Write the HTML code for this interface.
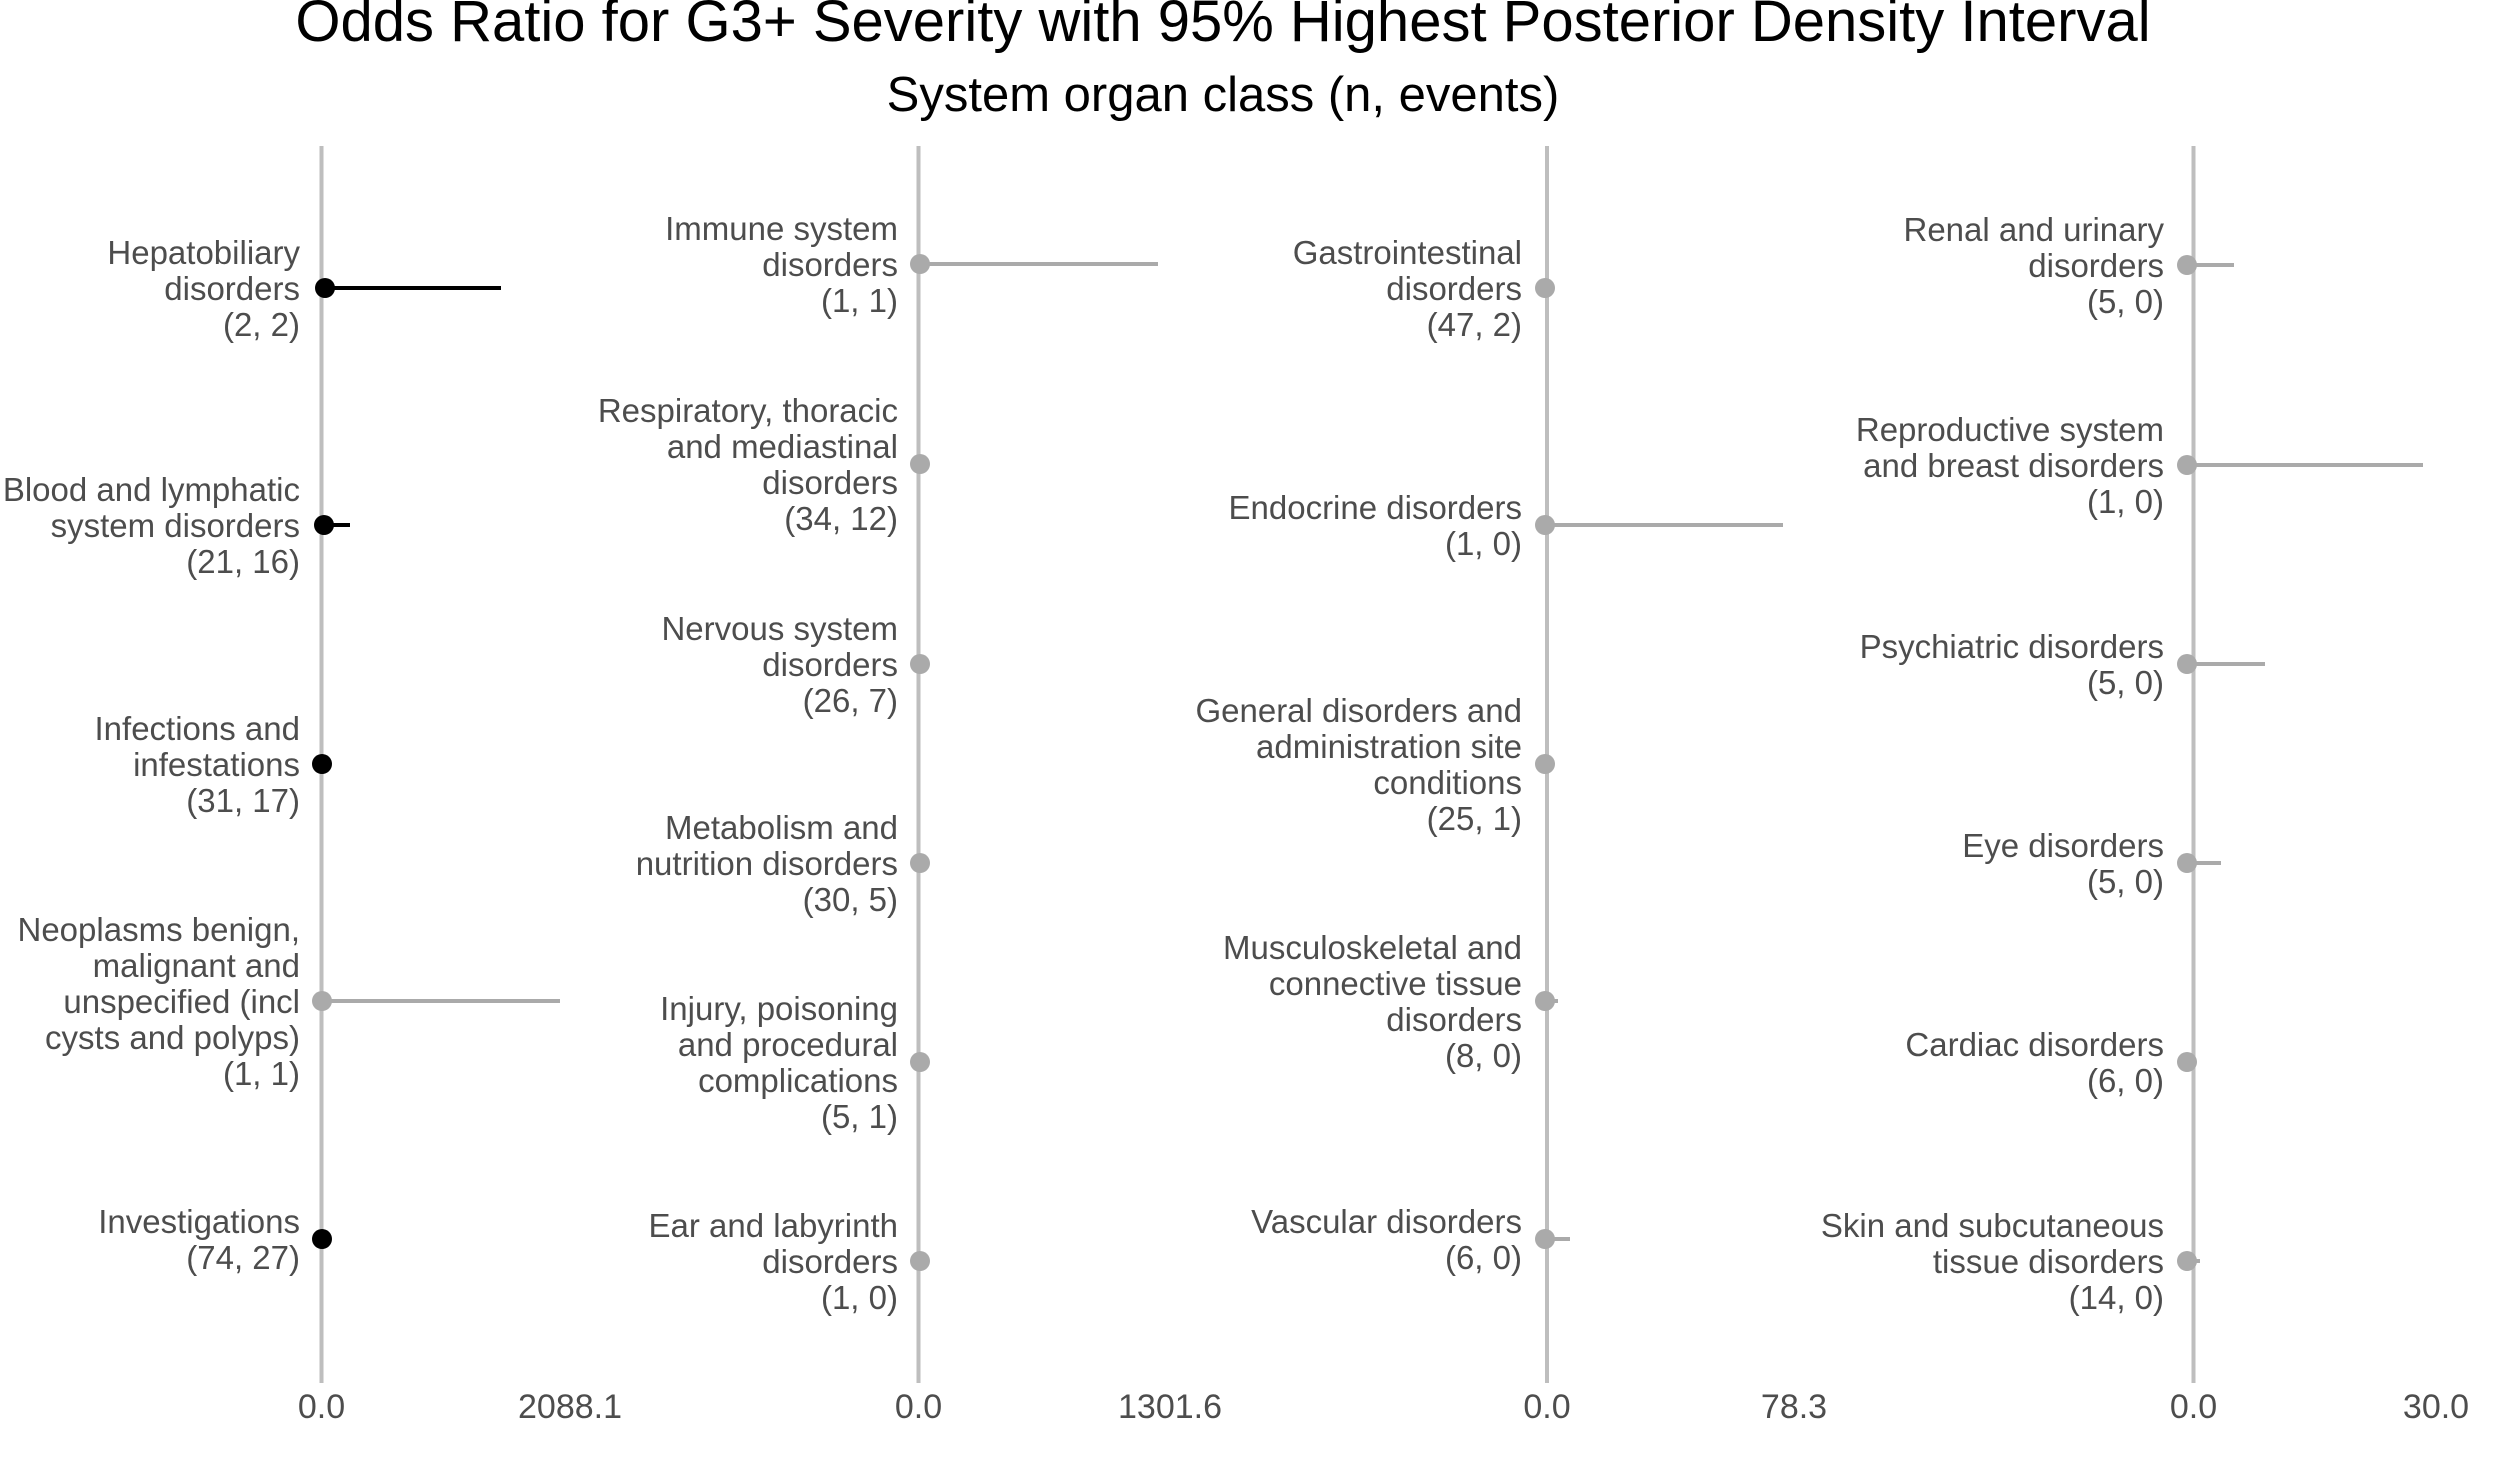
<!DOCTYPE html>
<html><head><meta charset="utf-8"><style>
html,body{margin:0;padding:0;background:#fff;}
svg{display:block;}
text{font-family:"Liberation Sans",Arial,sans-serif;}
.l{font-size:33px;fill:#4d4d4d;text-anchor:end;}
.t{font-size:34px;fill:#4d4d4d;text-anchor:middle;}
</style></head><body>
<svg width="2496" height="1481" viewBox="0 0 2496 1481" xmlns="http://www.w3.org/2000/svg">
<text x="1223" y="41" font-size="58" text-anchor="middle" fill="#000">Odds Ratio for G3+ Severity with 95% Highest Posterior Density Interval</text>
<text x="1223" y="111" font-size="49" text-anchor="middle" fill="#000">System organ class (n, events)</text>
<g stroke="#bebebe" stroke-width="4">
<line x1="321.5" y1="146" x2="321.5" y2="1383"/>
<line x1="918.5" y1="146" x2="918.5" y2="1383"/>
<line x1="1547" y1="146" x2="1547" y2="1383"/>
<line x1="2193.5" y1="146" x2="2193.5" y2="1383"/>
</g>
<text class="t" x="321.5" y="1418">0.0</text><text class="t" x="570" y="1418">2088.1</text>
<text class="t" x="918.5" y="1418">0.0</text><text class="t" x="1170" y="1418">1301.6</text>
<text class="t" x="1547" y="1418">0.0</text><text class="t" x="1794" y="1418">78.3</text>
<text class="t" x="2193.5" y="1418">0.0</text><text class="t" x="2436" y="1418">30.0</text>
<g stroke-width="4">
<line x1="325" y1="288" x2="501" y2="288" stroke="#000"/>
<line x1="325" y1="525" x2="350" y2="525" stroke="#000"/>
<line x1="322" y1="1001" x2="560" y2="1001" stroke="#aaaaaa"/>
<line x1="920" y1="264" x2="1158" y2="264" stroke="#aaaaaa"/>
<line x1="1545" y1="525" x2="1783" y2="525" stroke="#aaaaaa"/>
<line x1="1545" y1="1001" x2="1558" y2="1001" stroke="#aaaaaa"/>
<line x1="1545" y1="1239" x2="1570" y2="1239" stroke="#aaaaaa"/>
<line x1="2187" y1="265" x2="2234" y2="265" stroke="#aaaaaa"/>
<line x1="2187" y1="465" x2="2423" y2="465" stroke="#aaaaaa"/>
<line x1="2187" y1="664" x2="2265" y2="664" stroke="#aaaaaa"/>
<line x1="2187" y1="863" x2="2221" y2="863" stroke="#aaaaaa"/>
<line x1="2187" y1="1261" x2="2200" y2="1261" stroke="#aaaaaa"/>
</g>
<g fill="#000">
<circle cx="325" cy="288" r="10"/><circle cx="324" cy="525" r="10"/><circle cx="322" cy="764" r="10"/><circle cx="322" cy="1239" r="10"/>
</g>
<g fill="#aaaaaa">
<circle cx="322" cy="1001" r="10"/>
<circle cx="920" cy="264" r="10"/><circle cx="920" cy="464" r="10"/><circle cx="920" cy="664" r="10"/><circle cx="920" cy="863" r="10"/><circle cx="920" cy="1062" r="10"/><circle cx="920" cy="1261" r="10"/>
<circle cx="1545" cy="288" r="10"/><circle cx="1545" cy="525" r="10"/><circle cx="1545" cy="764" r="10"/><circle cx="1545" cy="1001" r="10"/><circle cx="1545" cy="1239" r="10"/>
<circle cx="2187" cy="265" r="10"/><circle cx="2187" cy="465" r="10"/><circle cx="2187" cy="664" r="10"/><circle cx="2187" cy="863" r="10"/><circle cx="2187" cy="1062" r="10"/><circle cx="2187" cy="1261" r="10"/>
</g>
<text class="l" x="300" y="264">Hepatobiliary</text><text class="l" x="300" y="300">disorders</text><text class="l" x="300" y="336">(2, 2)</text>
<text class="l" x="300" y="501">Blood and lymphatic</text><text class="l" x="300" y="537">system disorders</text><text class="l" x="300" y="573">(21, 16)</text>
<text class="l" x="300" y="740">Infections and</text><text class="l" x="300" y="776">infestations</text><text class="l" x="300" y="812">(31, 17)</text>
<text class="l" x="300" y="941">Neoplasms benign,</text><text class="l" x="300" y="977">malignant and</text><text class="l" x="300" y="1013">unspecified (incl</text><text class="l" x="300" y="1049">cysts and polyps)</text><text class="l" x="300" y="1085">(1, 1)</text>
<text class="l" x="300" y="1233">Investigations</text><text class="l" x="300" y="1269">(74, 27)</text>
<text class="l" x="898" y="240">Immune system</text><text class="l" x="898" y="276">disorders</text><text class="l" x="898" y="312">(1, 1)</text>
<text class="l" x="898" y="422">Respiratory, thoracic</text><text class="l" x="898" y="458">and mediastinal</text><text class="l" x="898" y="494">disorders</text><text class="l" x="898" y="530">(34, 12)</text>
<text class="l" x="898" y="640">Nervous system</text><text class="l" x="898" y="676">disorders</text><text class="l" x="898" y="712">(26, 7)</text>
<text class="l" x="898" y="839">Metabolism and</text><text class="l" x="898" y="875">nutrition disorders</text><text class="l" x="898" y="911">(30, 5)</text>
<text class="l" x="898" y="1020">Injury, poisoning</text><text class="l" x="898" y="1056">and procedural</text><text class="l" x="898" y="1092">complications</text><text class="l" x="898" y="1128">(5, 1)</text>
<text class="l" x="898" y="1237">Ear and labyrinth</text><text class="l" x="898" y="1273">disorders</text><text class="l" x="898" y="1309">(1, 0)</text>
<text class="l" x="1522" y="264">Gastrointestinal</text><text class="l" x="1522" y="300">disorders</text><text class="l" x="1522" y="336">(47, 2)</text>
<text class="l" x="1522" y="519">Endocrine disorders</text><text class="l" x="1522" y="555">(1, 0)</text>
<text class="l" x="1522" y="722">General disorders and</text><text class="l" x="1522" y="758">administration site</text><text class="l" x="1522" y="794">conditions</text><text class="l" x="1522" y="830">(25, 1)</text>
<text class="l" x="1522" y="959">Musculoskeletal and</text><text class="l" x="1522" y="995">connective tissue</text><text class="l" x="1522" y="1031">disorders</text><text class="l" x="1522" y="1067">(8, 0)</text>
<text class="l" x="1522" y="1233">Vascular disorders</text><text class="l" x="1522" y="1269">(6, 0)</text>
<text class="l" x="2164" y="241">Renal and urinary</text><text class="l" x="2164" y="277">disorders</text><text class="l" x="2164" y="313">(5, 0)</text>
<text class="l" x="2164" y="441">Reproductive system</text><text class="l" x="2164" y="477">and breast disorders</text><text class="l" x="2164" y="513">(1, 0)</text>
<text class="l" x="2164" y="658">Psychiatric disorders</text><text class="l" x="2164" y="694">(5, 0)</text>
<text class="l" x="2164" y="857">Eye disorders</text><text class="l" x="2164" y="893">(5, 0)</text>
<text class="l" x="2164" y="1056">Cardiac disorders</text><text class="l" x="2164" y="1092">(6, 0)</text>
<text class="l" x="2164" y="1237">Skin and subcutaneous</text><text class="l" x="2164" y="1273">tissue disorders</text><text class="l" x="2164" y="1309">(14, 0)</text>
</svg>
</body></html>
